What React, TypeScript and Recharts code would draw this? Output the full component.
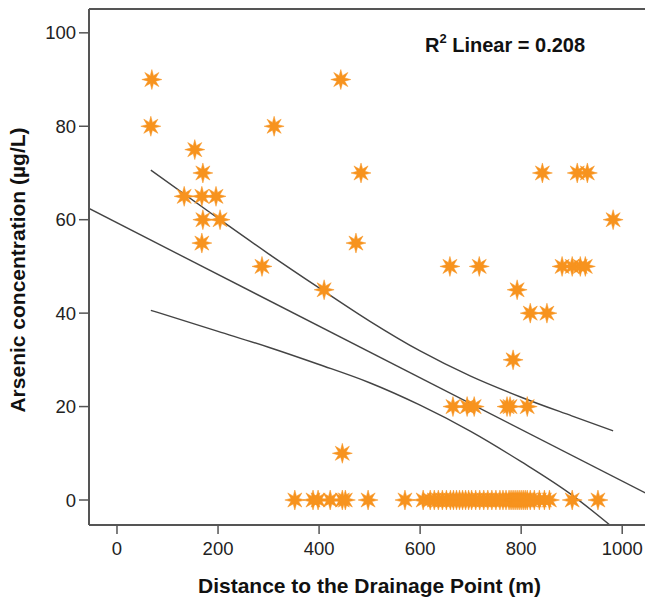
import { ComposedChart, Scatter, Line, XAxis, YAxis, ReferenceLine } from 'recharts';

// distance to drainage point (m) and arsenic (µg/L)
const distance = [
  69, 67, 311, 443, 154, 170, 133, 168, 196, 170, 204, 168, 287, 483, 473, 410, 446,
  842, 911, 931, 982, 659, 717, 881, 901, 917, 927,
  792, 818, 851, 784, 665, 693, 707, 772, 778, 812,
  352, 388, 398, 422, 446, 452, 497, 570, 606, 620, 628, 636, 644, 652, 660, 666, 672,
  678, 684, 690, 696, 702, 710, 718, 726, 734, 742, 750, 758, 764, 770, 776, 780, 784,
  788, 792, 796, 800, 804, 808, 812, 818, 826, 836, 846, 856, 901, 952,
];
const arsenic = [
  90, 80, 80, 90, 75, 70, 65, 65, 65, 60, 60, 55, 50, 70, 55, 45, 10,
  70, 70, 70, 60, 50, 50, 50, 50, 50, 50,
  45, 40, 40, 30, 20, 20, 20, 20, 20, 20,
  0, 0, 0, 0, 0, 0, 0, 0, 0, 0, 0, 0, 0, 0, 0, 0, 0,
  0, 0, 0, 0, 0, 0, 0, 0, 0, 0, 0, 0, 0, 0, 0, 0, 0,
  0, 0, 0, 0, 0, 0, 0, 0, 0, 0, 0, 0, 0, 0,
];

// fit line and 95% confidence band for the mean
const fitX = [-55.4, 1055];
const fitY = [62.4, 1.0];
const bandX = [67, 200, 300, 400, 500, 600, 700, 800, 900, 982];
const upperY = [70.6, 60.3, 52.7, 45.4, 38.3, 31.9, 26.5, 22.0, 18.0, 14.8];
const lowerX = [67, 200, 300, 400, 500, 600, 700, 800, 900, 975];
const lowerY = [40.6, 36.1, 32.7, 29.0, 25.1, 20.3, 14.7, 8.2, 1.1, -5.3];

const xTicks = [0, 200, 400, 600, 800, 1000];
const yTicks = [0, 20, 40, 60, 80, 100];

const points = distance.map((x, i) => ({ x, y: arsenic[i] }));
const fit = fitX.map((x, i) => ({ x, y: fitY[i] }));
const upper = bandX.map((x, i) => ({ x, y: upperY[i] }));
const lower = lowerX.map((x, i) => ({ x, y: lowerY[i] }));

const FONT = '"Liberation Sans", Arial, Helvetica, sans-serif';
const ORANGE = '#F7931E';
const AXIS = '#555';

function Star(props: any) {
  const { cx, cy } = props;
  if (cx == null || cy == null) return null;
  const pts: string[] = [];
  for (let k = 0; k < 16; k++) {
    const r = k % 2 === 0 ? 10 : 4.2;
    const a = (Math.PI * k) / 8 - Math.PI / 2;
    pts.push(`${cx + r * Math.cos(a)},${cy + r * Math.sin(a)}`);
  }
  return <polygon points={pts.join(' ')} fill={ORANGE} stroke={ORANGE} strokeWidth={0.5} />;
}

function YTitle(props: any) {
  const vb = props.viewBox || {};
  const cy = vb.y + vb.height / 2 + 3;
  return (
    <text x={17} y={cy} transform={`rotate(-90 17 ${cy})`} textAnchor="middle" dominantBaseline="central"
      fontFamily={FONT} fontWeight="bold" fontSize={21} fill="#111">
      Arsenic concentration (µg/L)
    </text>
  );
}

function XTitle(props: any) {
  const vb = props.viewBox || {};
  const cx = vb.x + vb.width / 2;
  return (
    <text x={cx} y={585} textAnchor="middle" dominantBaseline="central"
      fontFamily={FONT} fontWeight="bold" fontSize={21} fill="#111">
      Distance to the Drainage Point (m)
    </text>
  );
}

export default function App() {
  return (
    <div style={{ position: 'absolute', left: 0, top: 0, width: 645, height: 604, overflow: 'hidden', background: '#fff' }}>
      <ComposedChart width={660} height={604} margin={{ top: 9, right: 10, bottom: 0, left: 0 }}>
        <XAxis
          type="number"
          dataKey="x"
          domain={[-55.4, 1055]}
          ticks={xTicks}
          allowDataOverflow
          height={79}
          tickSize={9}
          tickMargin={8}
          axisLine={{ stroke: AXIS, strokeWidth: 2 }}
          tickLine={{ stroke: AXIS, strokeWidth: 1.5 }}
          tick={{ fontSize: 18.5, fill: '#222', fontFamily: FONT }}
          label={<XTitle />}
        />
        <YAxis
          type="number"
          dataKey="y"
          domain={[-5.35, 105.1]}
          ticks={yTicks}
          allowDataOverflow
          width={89}
          tickSize={10}
          tickMargin={3}
          axisLine={{ stroke: AXIS, strokeWidth: 2 }}
          tickLine={{ stroke: AXIS, strokeWidth: 1.5 }}
          tick={{ fontSize: 18.5, fill: '#222', fontFamily: FONT }}
          label={<YTitle />}
        />
        <ReferenceLine y={105.1} stroke={AXIS} strokeWidth={2} ifOverflow="extendDomain" />
        <Scatter data={points} shape={<Star />} isAnimationActive={false} />
        <Line data={fit} dataKey="y" type="linear" stroke="#444" strokeWidth={1.4} dot={false} isAnimationActive={false} />
        <Line data={upper} dataKey="y" type="monotone" stroke="#444" strokeWidth={1.4} dot={false} isAnimationActive={false} />
        <Line data={lower} dataKey="y" type="monotone" stroke="#444" strokeWidth={1.4} dot={false} isAnimationActive={false} />
      </ComposedChart>
      <div style={{ position: 'absolute', left: 425, top: 34, fontFamily: FONT, fontWeight: 'bold', fontSize: 20, color: '#111', whiteSpace: 'nowrap', lineHeight: '22px' }}>
        R<span style={{ fontSize: 13, position: 'relative', top: -9 }}>2</span> Linear = 0.208
      </div>
    </div>
  );
}
